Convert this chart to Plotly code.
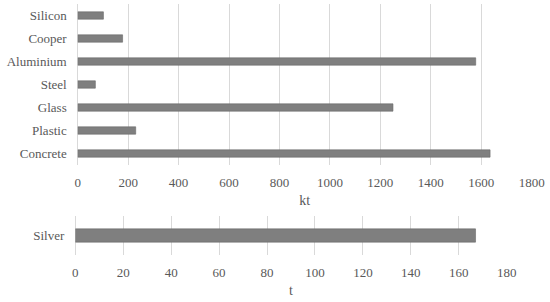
import plotly.graph_objects as go

materials = ["Concrete", "Plastic", "Glass", "Steel", "Aluminium", "Cooper", "Silicon"]
values_kt = [1635, 230, 1250, 70, 1578, 178, 102]
silver_label = ["Silver"]
silver_t = [167]
top_ticks = [0, 200, 400, 600, 800, 1000, 1200, 1400, 1600, 1800]
bottom_ticks = [0, 20, 40, 60, 80, 100, 120, 140, 160, 180]

W, H = 550, 302
FONT = "Liberation Serif"
TXT = "#595959"
GRID = "#d9d9d9"
BAR = "#7f7f7f"

fig = go.Figure()
fig.add_trace(go.Bar(y=materials, x=values_kt, orientation="h", width=0.32,
                     marker=dict(color=BAR, line=dict(color="#6a6a6a", width=0.6)),
                     xaxis="x", yaxis="y", showlegend=False))
fig.add_trace(go.Bar(y=silver_label, x=silver_t, orientation="h", width=0.34,
                     marker=dict(color=BAR, line=dict(color="#6a6a6a", width=0.6)),
                     xaxis="x2", yaxis="y2", showlegend=False))

axis_common = dict(showgrid=True, gridcolor=GRID, gridwidth=1, zeroline=True,
                   zerolinecolor=GRID, zerolinewidth=1, showline=False, automargin=False,
                   tickfont=dict(family=FONT, size=13, color=TXT), ticks="")

fig.update_layout(
    width=W, height=H, margin=dict(l=0, r=0, t=0, b=0),
    paper_bgcolor="white", plot_bgcolor="white",
    font=dict(family=FONT, size=13, color=TXT),
    xaxis=dict(domain=[77.7 / W, 531.7 / W], range=[0, 1800], tickvals=top_ticks,
               anchor="y", ticklabelstandoff=8,
               title=dict(text="kt", font=dict(family=FONT, size=14, color=TXT), standoff=6),
               **axis_common),
    yaxis=dict(domain=[1 - 165 / H, 1 - 4 / H], range=[-0.5, 6.5], anchor="x",
               showgrid=False, zeroline=False, showline=False, ticks="", automargin=False,
               ticklabelstandoff=10,
               tickfont=dict(family=FONT, size=13, color=TXT)),
    xaxis2=dict(domain=[75.3 / W, 506.7 / W], range=[0, 180], tickvals=bottom_ticks,
                anchor="y2", ticklabelstandoff=8,
                title=dict(text="t", font=dict(family=FONT, size=14, color=TXT), standoff=6),
                **axis_common),
    yaxis2=dict(domain=[1 - 255 / H, 1 - 216 / H], range=[-0.5, 0.5], anchor="x2",
                showgrid=False, zeroline=False, showline=False, ticks="", automargin=False,
                ticklabelstandoff=10,
                tickfont=dict(family=FONT, size=13, color=TXT)),
)

fig.write_html("out.html", config={"displayModeBar": False},
               post_script="document.body.style.margin='0';")
